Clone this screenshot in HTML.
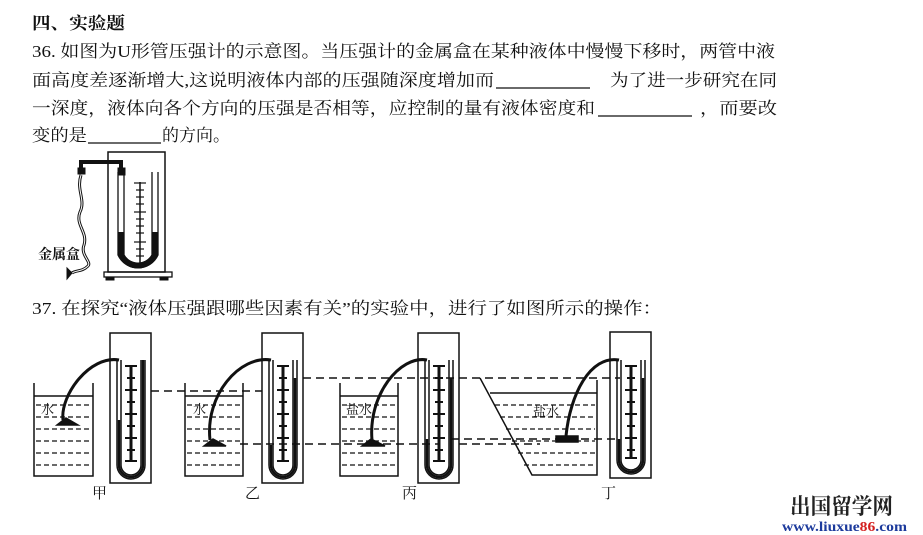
<!DOCTYPE html>
<html><head><meta charset="utf-8"><style>
html,body{margin:0;padding:0;background:#fff;width:923px;height:535px;overflow:hidden}
svg{display:block}
text{font-family:"Liberation Serif","Noto Serif CJK SC","Noto Sans CJK SC",serif;fill:#111}
</style></head><body>
<svg width="923" height="535" viewBox="0 0 923 535" xmlns="http://www.w3.org/2000/svg">
<g font-size="17">
<text x="32" y="29" font-weight="bold" textLength="93" lengthAdjust="spacingAndGlyphs">四、实验题</text>
<text x="32" y="57" textLength="743" lengthAdjust="spacingAndGlyphs">36. 如图为U形管压强计的示意图。当压强计的金属盒在某种液体中慢慢下移时，两管中液</text>
<text x="32" y="86" textLength="462" lengthAdjust="spacingAndGlyphs">面高度差逐渐增大,这说明液体内部的压强随深度增加而</text>
<line x1="496" y1="88" x2="590" y2="88" stroke="#111" stroke-width="1.2"/>
<text x="610" y="86" textLength="167" lengthAdjust="spacingAndGlyphs">为了进一步研究在同</text>
<text x="32" y="114" textLength="563" lengthAdjust="spacingAndGlyphs">一深度，液体向各个方向的压强是否相等，应控制的量有液体密度和</text>
<line x1="598" y1="116" x2="692" y2="116" stroke="#111" stroke-width="1.2"/>
<text x="700" y="114" textLength="77" lengthAdjust="spacingAndGlyphs">，而要改</text>
<text x="32" y="141" textLength="55" lengthAdjust="spacingAndGlyphs">变的是</text>
<line x1="88" y1="143" x2="161" y2="143" stroke="#111" stroke-width="1.2"/>
<text x="162" y="141" textLength="68" lengthAdjust="spacingAndGlyphs">的方向。</text>
<text x="32" y="314" textLength="630" lengthAdjust="spacingAndGlyphs">37. 在探究“液体压强跟哪些因素有关”的实验中，进行了如图所示的操作：</text>
</g>
<!-- Fig 36 -->
<g stroke="#111" fill="none">
<rect x="108" y="152" width="57" height="120" stroke-width="1.5"/>
<rect x="104" y="272" width="68" height="5" stroke-width="1.3"/>
<rect x="106" y="277" width="8" height="3" fill="#111"/><rect x="160" y="277" width="8" height="3" fill="#111"/>
<path d="M118 172 V255 A22 22 0 0 0 158 255 V172" stroke-width="1.3"/>
<path d="M124 172 V255 A16 16 0 0 0 152 255 V172" stroke-width="1.3"/>
<path d="M121 232 V255 A19 19 0 0 0 155 255 V232" stroke-width="6"/>
<line x1="140" y1="182" x2="140" y2="265" stroke-width="1.5"/>
<g stroke-width="1.2">
<line x1="134" y1="183" x2="146" y2="183"/><line x1="136" y1="190" x2="144" y2="190"/><line x1="136" y1="197" x2="144" y2="197"/><line x1="136" y1="204" x2="144" y2="204"/><line x1="134" y1="212" x2="146" y2="212"/><line x1="136" y1="219" x2="144" y2="219"/><line x1="136" y1="226" x2="144" y2="226"/><line x1="136" y1="233" x2="144" y2="233"/><line x1="134" y1="242" x2="146" y2="242"/><line x1="136" y1="249" x2="144" y2="249"/><line x1="136" y1="256" x2="144" y2="256"/><line x1="134" y1="264" x2="146" y2="264"/>
</g>
<path d="M81 171 V162 H121 V171" stroke-width="4"/>
<rect x="78" y="168" width="7" height="6" fill="#111"/><rect x="118" y="168" width="7" height="7" fill="#111"/>
<path d="M81 175 C76 190,86 200,80 212 C75 225,88 232,84 245 C80 255,92 262,88 266 C82 272,76 270,72 273" stroke-width="3"/>
<path d="M81 175 C76 190,86 200,80 212 C75 225,88 232,84 245 C80 255,92 262,88 266 C82 272,76 270,72 273" stroke="#fff" stroke-width="1"/>
<path d="M67 268 L72 273 L67 279 Z" fill="#111"/>
</g>
<text x="38" y="259" font-size="14" font-family="Liberation Sans,Noto Sans CJK SC,sans-serif" font-weight="bold">金属盒</text>

<!-- Fig 37 -->
<g stroke="#111" fill="none" stroke-width="1.5">
<!-- 甲 -->
<path d="M34 383 V476 H93 V383"/><line x1="34" y1="396" x2="93" y2="396"/>
<g stroke-dasharray="5,3" stroke-width="1.2"><line x1="36" y1="405" x2="91" y2="405"/><line x1="36" y1="417" x2="91" y2="417"/><line x1="36" y1="429" x2="91" y2="429"/><line x1="36" y1="441" x2="91" y2="441"/><line x1="36" y1="453" x2="91" y2="453"/><line x1="36" y1="465" x2="91" y2="465"/></g>
<rect x="110" y="333" width="41" height="150"/>
<path d="M117 360 V465 A14 14 0 0 0 145 465 V360"/><path d="M121 360 V465 A10 10 0 0 0 141 465 V360"/>
<path d="M119 420 V465 A12 12 0 0 0 143 465 V360" stroke-width="2.5"/>
<line x1="131" y1="365" x2="131" y2="462" stroke-width="3"/>
<path d="M125 366h12M127 378h8M125 390h12M127 402h8M125 414h12M127 426h8M125 438h12M127 450h8M125 461h12" stroke-width="2"/>
<path d="M63 420 C60 395,90 355,119 360" stroke-width="3"/><path d="M57 425 L66 418 L78 425 Z" fill="#111"/>
<!-- 乙 -->
<path d="M185 383 V476 H243 V383"/><line x1="185" y1="396" x2="243" y2="396"/>
<g stroke-dasharray="5,3" stroke-width="1.2"><line x1="187" y1="405" x2="241" y2="405"/><line x1="187" y1="417" x2="241" y2="417"/><line x1="187" y1="429" x2="241" y2="429"/><line x1="187" y1="441" x2="241" y2="441"/><line x1="187" y1="453" x2="241" y2="453"/><line x1="187" y1="465" x2="241" y2="465"/></g>
<rect x="262" y="333" width="41" height="150"/>
<path d="M269 360 V465 A14 14 0 0 0 297 465 V360"/><path d="M273 360 V465 A10 10 0 0 0 293 465 V360"/>
<path d="M271 445 V465 A12 12 0 0 0 295 465 V378" stroke-width="2.5"/>
<line x1="283" y1="365" x2="283" y2="462" stroke-width="3"/>
<path d="M277 366h12M279 378h8M277 390h12M279 402h8M277 414h12M279 426h8M277 438h12M279 450h8M277 461h12" stroke-width="2"/>
<path d="M210 440 C205 395,240 355,271 360" stroke-width="3"/><path d="M204 446 L213 439 L226 446 Z" fill="#111"/>
<!-- 丙 -->
<path d="M340 383 V476 H398 V383"/><line x1="340" y1="396" x2="398" y2="396"/>
<g stroke-dasharray="5,3" stroke-width="1.2"><line x1="342" y1="405" x2="396" y2="405"/><line x1="342" y1="417" x2="396" y2="417"/><line x1="342" y1="429" x2="396" y2="429"/><line x1="342" y1="441" x2="396" y2="441"/><line x1="342" y1="453" x2="396" y2="453"/><line x1="342" y1="465" x2="396" y2="465"/></g>
<rect x="418" y="333" width="41" height="150"/>
<path d="M425 360 V465 A14 14 0 0 0 453 465 V360"/><path d="M429 360 V465 A10 10 0 0 0 449 465 V360"/>
<path d="M427 439 V465 A12 12 0 0 0 451 465 V378" stroke-width="2.5"/>
<line x1="439" y1="365" x2="439" y2="462" stroke-width="3"/>
<path d="M433 366h12M435 378h8M433 390h12M435 402h8M433 414h12M435 426h8M433 438h12M435 450h8M433 461h12" stroke-width="2"/>
<path d="M372 440 C368 395,400 355,427 360" stroke-width="3"/><path d="M362 446 L371 439 L385 446 Z" fill="#111"/>
<!-- 丁 -->
<path d="M480 378 L532 475 H597 V380"/><line x1="490" y1="393" x2="597" y2="393"/>
<g stroke-dasharray="5,3" stroke-width="1.2"><line x1="495" y1="405" x2="595" y2="405"/><line x1="500" y1="417" x2="595" y2="417"/><line x1="506" y1="429" x2="595" y2="429"/><line x1="512" y1="441" x2="595" y2="441"/><line x1="518" y1="453" x2="595" y2="453"/><line x1="524" y1="465" x2="595" y2="465"/></g>
<rect x="610" y="332" width="41" height="146"/>
<path d="M617 360 V460 A14 14 0 0 0 645 460 V360"/><path d="M621 360 V460 A10 10 0 0 0 641 460 V360"/>
<path d="M619 439 V460 A12 12 0 0 0 643 460 V378" stroke-width="2.5"/>
<line x1="631" y1="365" x2="631" y2="458" stroke-width="3"/>
<path d="M625 366h12M627 378h8M625 390h12M627 402h8M625 414h12M627 426h8M625 438h12M627 450h8M625 458h12" stroke-width="2"/>
<path d="M566 436 C570 395,590 355,619 360" stroke-width="3"/><rect x="556" y="436" width="22" height="6" fill="#111"/>
<!-- dashed reference lines -->
<g stroke-dasharray="8,5" stroke-width="1.5">
<line x1="151" y1="391" x2="262" y2="391"/>
<line x1="303" y1="378" x2="620" y2="378"/>
<line x1="240" y1="444" x2="440" y2="444"/>
<line x1="459" y1="444" x2="540" y2="444"/>
<line x1="451" y1="439" x2="620" y2="439"/>
</g>
</g>
<g font-size="13" font-family="Liberation Sans,Noto Sans CJK SC,sans-serif">
<text x="41" y="414">水</text><text x="193" y="414">水</text><text x="346" y="414">盐水</text><text x="533" y="416">盐水</text>
</g>
<g font-size="15" font-family="Liberation Serif,Noto Serif CJK SC,serif">
<text x="92" y="498">甲</text><text x="245" y="498">乙</text><text x="402" y="498">丙</text><text x="601" y="498">丁</text>
</g>
<text x="790" y="514" font-size="22" font-weight="bold" font-family="Noto Sans CJK SC,sans-serif" textLength="103" lengthAdjust="spacingAndGlyphs" style="fill:#222">出国留学网</text>
<text x="782" y="531" font-size="14" font-weight="bold" font-family="Liberation Sans,sans-serif" textLength="125" lengthAdjust="spacingAndGlyphs" style="fill:#1c3a9c">www.liuxue<tspan style="fill:#d42020">86</tspan>.com</text>
</svg>
</body></html>
